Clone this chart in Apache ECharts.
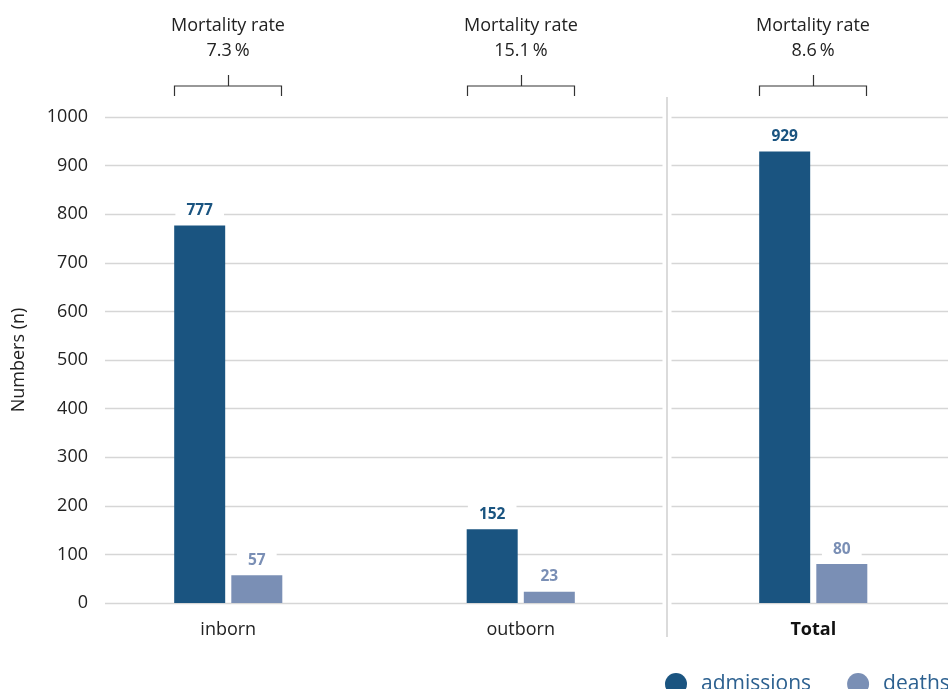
<!DOCTYPE html>
<html><head><meta charset="utf-8">
<script src="https://cdn.jsdelivr.net/npm/echarts@6/dist/echarts.min.js"></script>
<style>html,body{margin:0;padding:0;overflow:hidden;background:#fff;width:948px;height:689px}#c{width:1010px;height:689px}</style>
</head><body><div id="c"></div>
<script>
const categories = ['inborn', 'outborn', 'Total'];
const admissions = [777, 152, 929];
const deaths = [57, 23, 80];
const mortalityRates = ['7.3', '15.1', '8.6'];
const seriesNames = ['admissions', 'deaths'];
const yMin = 0, yMax = 1000, yStep = 100;

const FONT = 'Open Sans';
const DARK = '#1a5480';
const LIGHT = '#7a8fb5';

const chart = echarts.init(document.getElementById('c'), null, {renderer: 'canvas'});

const catData = categories.map((c, i) => i === categories.length - 1
  ? {value: c, textStyle: {fontWeight: 'bold', color: '#111'}}
  : c);

const labelCommon = {
  show: true, position: 'top', distance: 4,
  fontFamily: FONT, fontWeight: 'bold', fontSize: 15.5,
  backgroundColor: '#fff', padding: [3, 11, 3, 11]
};

chart.setOption({
  animation: false,
  textStyle: {fontFamily: FONT},
  grid: [
    {left: 82, top: 117, width: 877.5, height: 486},
    {left: 105, top: 117, right: 0, height: 486}
  ],
  xAxis: [
    {type: 'category', gridIndex: 0, data: catData,
     axisLine: {show: false}, axisTick: {show: false},
     axisLabel: {fontSize: 18, color: '#222', margin: 18, fontFamily: FONT}},
    {type: 'value', gridIndex: 1, show: false, min: 0, max: 1}
  ],
  yAxis: [
    {type: 'value', gridIndex: 0, min: yMin, max: yMax, interval: yStep, show: false},
    {type: 'value', gridIndex: 1, min: yMin, max: yMax, interval: yStep,
     axisLine: {show: false}, axisTick: {show: false},
     axisLabel: {fontSize: 18, color: '#222', margin: 17, fontFamily: FONT,
       formatter: v => String(v)},
     splitLine: {lineStyle: {color: '#d6d6d6', width: 1.3}},
     name: 'Numbers (n)', nameLocation: 'middle', nameGap: 77,
     nameTextStyle: {fontSize: 18, color: '#222', fontFamily: FONT}}
  ],
  legend: {
    left: 660, top: 668, itemWidth: 22, itemHeight: 22, itemGap: 36,
    icon: 'circle',
    textStyle: {fontSize: 21, color: '#2d6190', fontFamily: FONT, padding: [0, 0, 0, 9]},
    data: seriesNames
  },
  series: [
    {name: seriesNames[0], type: 'bar', xAxisIndex: 0, yAxisIndex: 0,
     data: admissions, barWidth: 51, barGap: '12%',
     itemStyle: {color: DARK},
     label: Object.assign({color: DARK}, labelCommon)},
    {name: seriesNames[1], type: 'bar', xAxisIndex: 0, yAxisIndex: 0,
     data: deaths, barWidth: 51, barGap: '12%',
     itemStyle: {color: LIGHT},
     label: Object.assign({color: LIGHT}, labelCommon)}
  ]
});

// annotations computed from the library's layout
const model = chart.getModel();
const d0 = model.getSeriesByIndex(0).getData();
const d1 = model.getSeriesByIndex(1).getData();
const graphics = [];
const yTop = chart.convertToPixel({yAxisIndex: 0}, yMax);
const yBot = chart.convertToPixel({yAxisIndex: 0}, yMin);
categories.forEach((c, i) => {
  const a = d0.getItemLayout(i), b = d1.getItemLayout(i);
  const L = Math.round(a.x) + 0.5, R = Math.round(b.x + b.width) - 0.5;
  const C = Math.round((L + R) / 2) + 0.5;
  const hy = yTop - 31, ey = yTop - 21, ty = yTop - 42;
  graphics.push({type: 'polyline', z: 20, shape: {points: [[L, ey], [L, hy], [R, hy], [R, ey]]},
    style: {stroke: '#333', lineWidth: 1.2, fill: null}});
  graphics.push({type: 'line', z: 20, shape: {x1: C, y1: hy, x2: C, y2: ty},
    style: {stroke: '#333', lineWidth: 1.2}});
  graphics.push({type: 'text', z: 20, x: (L + R) / 2, y: 13,
    style: {text: 'Mortality rate\n' + mortalityRates[i] + '\u2009%', align: 'center',
      verticalAlign: 'top', fontSize: 18, lineHeight: 25, fill: '#222', fontFamily: FONT}});
});
// separator between groups and total
const n = categories.length;
const sx = Math.round((chart.convertToPixel({xAxisIndex: 0}, n - 2) + chart.convertToPixel({xAxisIndex: 0}, n - 1)) / 2);
graphics.push({type: 'rect', z: 15, shape: {x: sx - 4.5, y: yTop - 22, width: 9, height: yBot - yTop + 56},
  style: {fill: '#fff'}});
graphics.push({type: 'line', z: 16, shape: {x1: sx, y1: yTop - 20, x2: sx, y2: yBot + 34},
  style: {stroke: '#cfcfcf', lineWidth: 1.5}});
chart.setOption({graphic: graphics});
</script></body></html>
